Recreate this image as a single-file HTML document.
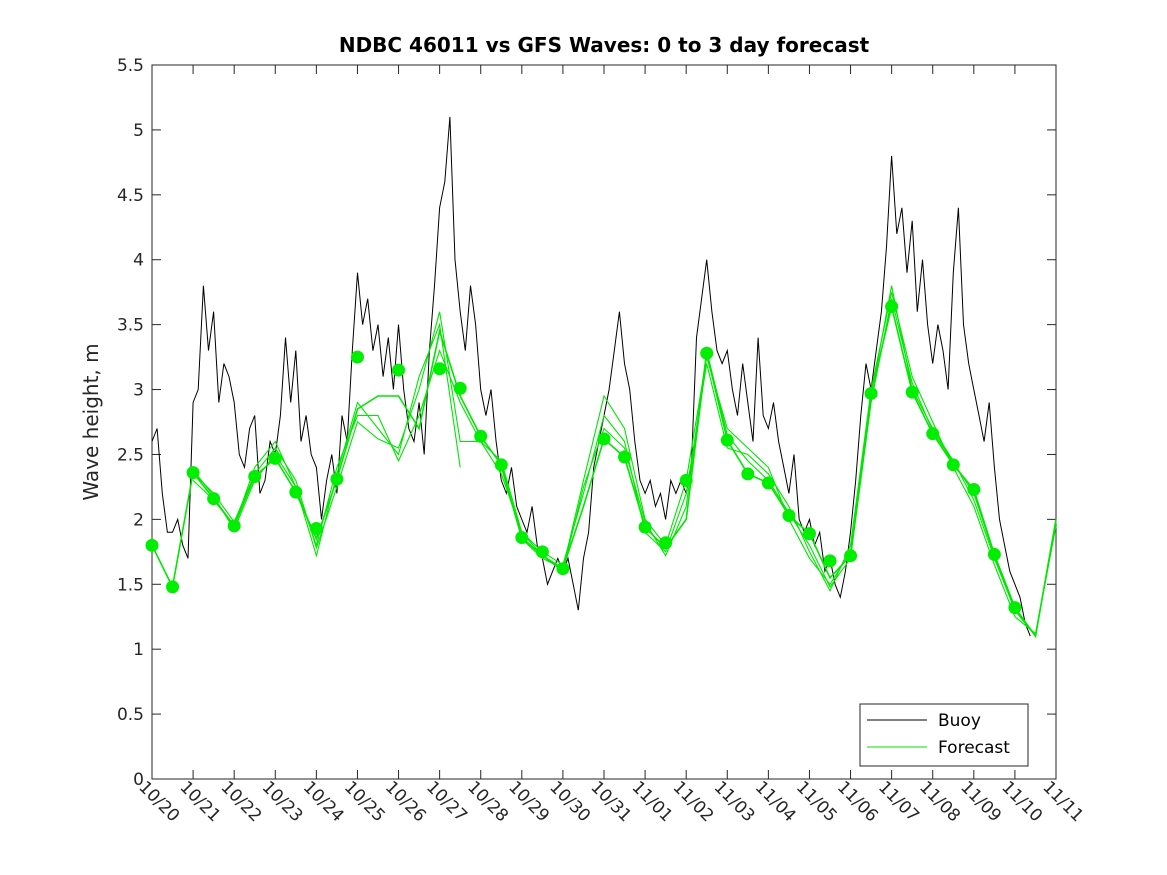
<!DOCTYPE html>
<html><head><meta charset="utf-8"><style>
html,body{margin:0;padding:0;background:#fff;}
svg{display:block;font-family:"DejaVu Sans","Liberation Sans",sans-serif;}
</style></head><body>
<svg id="chart" width="1167" height="875" viewBox="0 0 1167 875"></svg>
<script>
const dateLabels=["10/20","10/21","10/22","10/23","10/24","10/25","10/26","10/27","10/28","10/29","10/30","10/31","11/01","11/02","11/03","11/04","11/05","11/06","11/07","11/08","11/09","11/10","11/11"];
const yTicks=[0,0.5,1,1.5,2,2.5,3,3.5,4,4.5,5,5.5];
// buoy, 3-hourly starting 10/20 00:00
const buoy=[2.6,2.7,2.2,1.9,1.9,2.0,1.8,1.7,
2.9,3.0,3.8,3.3,3.6,2.9,3.2,3.1,
2.9,2.5,2.4,2.7,2.8,2.2,2.3,2.6,
2.5,2.8,3.4,2.9,3.3,2.6,2.8,2.5,
2.4,2.0,2.3,2.5,2.2,2.8,2.6,3.3,
3.9,3.5,3.7,3.3,3.5,3.1,3.4,3.0,
3.5,3.0,2.7,2.6,2.9,2.5,3.3,3.8,
4.4,4.6,5.1,4.0,3.6,3.3,3.8,3.5,
3.0,2.8,3.0,2.6,2.3,2.2,2.4,2.1,
2.0,1.9,2.1,1.8,1.7,1.5,1.6,1.7,
1.6,1.7,1.5,1.3,1.7,1.9,2.4,2.6,
2.8,3.0,3.3,3.6,3.2,3.0,2.6,2.3,
2.2,2.3,2.1,2.2,2.0,2.3,2.2,2.3,
2.2,2.4,3.4,3.7,4.0,3.6,3.3,3.2,
3.3,3.0,2.8,3.2,2.9,2.6,3.4,2.8,
2.7,2.9,2.6,2.4,2.2,2.5,2.0,1.9,
2.0,1.8,1.9,1.6,1.7,1.5,1.4,1.6,
1.9,2.3,2.8,3.2,3.0,3.3,3.6,4.1,
4.8,4.2,4.4,3.9,4.3,3.6,4.0,3.5,
3.2,3.5,3.3,3.0,3.9,4.4,3.5,3.2,
3.0,2.8,2.6,2.9,2.4,2.0,1.8,1.6,
1.5,1.4,1.2,1.1];
// forecast analysis points, every 12h from 10/20 (null = no dot)
const fcDots=[1.8,1.48,2.36,2.16,1.95,2.33,2.47,2.21,1.93,2.31,3.25,null,3.15,null,3.16,3.01,2.64,2.42,1.86,1.75,1.62,null,2.62,2.48,1.94,1.82,2.30,3.28,2.61,2.35,2.28,2.03,1.89,1.68,1.72,2.97,3.64,2.98,2.66,2.42,2.23,1.73,1.32];
// main forecast line every 12h through 11/11
const fcMain=[1.8,1.48,2.36,2.16,1.95,2.33,2.47,2.21,1.85,2.31,2.85,2.95,2.95,2.7,3.45,2.95,2.64,2.42,1.86,1.72,1.62,2.1,2.62,2.48,1.94,1.78,2.0,3.28,2.61,2.35,2.28,2.03,1.89,1.55,1.72,2.97,3.64,2.98,2.66,2.42,2.23,1.73,1.32,1.1,2.0];
const fcRunA=[null,null,2.36,2.2,1.98,2.35,2.55,2.3,1.78,2.25,2.75,2.62,2.55,3.0,3.6,2.6,2.6,2.35,1.9,1.75,1.65,2.2,2.8,2.6,1.9,1.75,2.2,3.2,2.55,2.5,2.35,2.1,1.75,1.45,1.8,3.0,3.75,3.1,2.75,2.4,2.1,1.65,1.25,1.12,1.95];
const fcRunB=[null,null,2.3,2.15,1.95,2.4,2.6,2.25,1.72,2.35,2.9,2.7,2.5,3.1,3.5,2.4,null,2.4,1.85,1.7,1.62,2.3,2.95,2.7,2.0,1.8,2.3,3.25,2.7,2.55,2.4,2.0,1.7,1.5,1.75,2.95,3.8,3.0,2.7,2.45,2.15,1.7,1.3,1.1,1.98];
const fcRunC=[null,null,2.38,2.18,1.92,2.3,2.5,2.25,1.8,2.4,2.8,2.8,2.45,2.8,3.3,2.9,2.6,2.45,1.9,1.72,1.6,2.25,2.7,2.55,1.98,1.72,2.1,3.3,2.65,2.45,2.3,2.05,1.8,1.48,1.7,2.9,3.7,3.05,2.68,2.44,2.2,1.72,1.3,1.1,2.0];

const NS="http://www.w3.org/2000/svg";
const svg=document.getElementById('chart');
const X0=152,X1=1056,Y0=779,Y1=65,DAYS=22,YMAX=5.5;
const xs=d=>X0+(X1-X0)*d/DAYS;
const ys=v=>Y0-(Y0-Y1)*v/YMAX;
function el(t,a,p){const e=document.createElementNS(NS,t);for(const k in a)e.setAttribute(k,a[k]);(p||svg).appendChild(e);return e;}
function pathFrom(arr,step){let d="",pen=false;arr.forEach((v,i)=>{if(v==null){pen=false;return;}d+=(pen?"L":"M")+xs(i*step).toFixed(1)+","+ys(v).toFixed(1);pen=true;});return d;}

const frame=el('rect',{x:X0,y:Y1,width:X1-X0,height:Y0-Y1,fill:'#fff',stroke:'#262626','stroke-width':1});



yTicks.forEach(v=>{
  const y=ys(v);
  el('line',{x1:X0,y1:y,x2:X0+9,y2:y,stroke:'#262626'});
  el('line',{x1:X1,y1:y,x2:X1-9,y2:y,stroke:'#262626'});
  const t=el('text',{x:X0-8,y:y+6,'text-anchor':'end','font-size':17,fill:'#262626'});
  t.textContent=String(v);
  
  
});
dateLabels.forEach((lab,i)=>{
  const x=xs(i);
  el('line',{x1:x,y1:Y0,x2:x,y2:Y0-9,stroke:'#262626'});
  el('line',{x1:x,y1:Y1,x2:x,y2:Y1+9,stroke:'#262626'});
  const t=el('text',{x:0,y:0,'font-size':17,fill:'#262626',transform:`translate(${x-14},${Y0+9}) rotate(45)`});
  t.textContent=lab;
  
  
});

const buoyLine=el('path',{d:pathFrom(buoy,1/8),fill:'none',stroke:'#000','stroke-width':1});



[fcRunA,fcRunB,fcRunC,fcMain].forEach((r,i)=>{
  const p=el('path',{d:pathFrom(r,0.5),fill:'none',stroke:'#00e600','stroke-width':i==3?1.6:1.1});
  
  
});
fcDots.forEach((v,i)=>{
  if(v==null)return;
  const c=el('circle',{cx:xs(i*0.5),cy:ys(v),r:6.5,fill:'#00ee00'});
  
  
});

const title=el('text',{x:604,y:52,'text-anchor':'middle','font-size':20,'font-weight':'bold',fill:'#000'});
title.textContent='NDBC 46011 vs GFS Waves: 0 to 3 day forecast';



const yt=el('text',{x:0,y:0,'text-anchor':'middle','font-size':20,fill:'#262626',transform:`translate(98,${(Y0+Y1)/2}) rotate(-90)`});
yt.textContent='Wave height, m';



const lg=el('g',{});


el('rect',{x:860,y:704,width:168,height:62,fill:'#fff',stroke:'#262626'},lg);
el('line',{x1:867,y1:720,x2:927,y2:720,stroke:'#000'},lg);
const l1=el('text',{x:938,y:726,'font-size':17,fill:'#000'},lg);l1.textContent='Buoy';


el('line',{x1:867,y1:747,x2:927,y2:747,stroke:'#00e600'},lg);
const l2=el('text',{x:938,y:753,'font-size':17,fill:'#000'},lg);l2.textContent='Forecast';


</script>
</body></html>
